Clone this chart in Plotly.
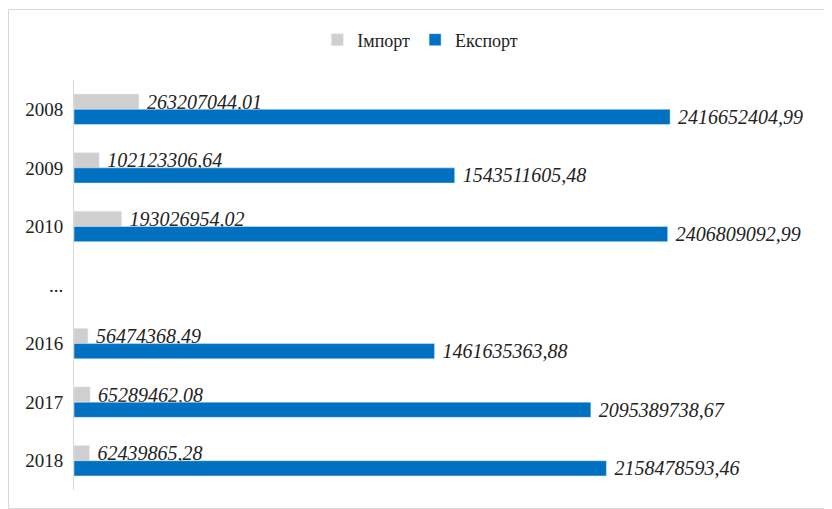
import plotly.graph_objects as go

categories = ["2008", "2009", "2010", "...", "2016", "2017", "2018"]
import_values = [263207044.01, 102123306.64, 193026954.02, None, 56474368.49, 65289462.08, 62439865.28]
export_values = [2416652404.99, 1543511605.48, 2406809092.99, None, 1461635363.88, 2095389738.67, 2158478593.46]
import_labels = ["263207044,01", "102123306,64", "193026954,02", "", "56474368,49", "65289462,08", "62439865,28"]
export_labels = ["2416652404,99", "1543511605,48", "2406809092,99", "", "1461635363,88", "2095389738,67", "2158478593,46"]

SERIF = "Liberation Serif, Times New Roman, serif"

# the page body has an 8px margin, so the figure starts at (8, 8)
W, H = 824, 501
L, R, T, B = 66, 18, 72, 19
PW, PH = W - L - R, H - T - B

fig = go.Figure()
fig.add_trace(go.Bar(
    y=categories, x=import_values, orientation="h", name="Імпорт",
    marker=dict(color="#D0CECE"),
    text=import_labels, texttemplate="\u00a0%{text}", textposition="outside",
    cliponaxis=False, constraintext="none",
    textfont=dict(family=SERIF, size=20, color="#222222", style="italic"),
))
fig.add_trace(go.Bar(
    y=categories, x=export_values, orientation="h", name="Експорт",
    marker=dict(color="#0070C0"),
    text=export_labels, texttemplate="\u00a0%{text}", textposition="outside",
    cliponaxis=False, constraintext="none",
    textfont=dict(family=SERIF, size=20, color="#222222", style="italic"),
))

fig.update_layout(
    width=W, height=H,
    margin=dict(l=L, r=R, t=T, b=B, autoexpand=False),
    paper_bgcolor="white", plot_bgcolor="white",
    barmode="group", bargap=0.48, bargroupgap=0,
    font=dict(family=SERIF, size=18, color="#222222"),
    legend=dict(orientation="h", x=0.468, xanchor="center", y=1 + (T - 32) / PH, yanchor="middle",
                font=dict(family=SERIF, size=18, color="#222222"),
                itemwidth=30, traceorder="normal", tracegroupgap=0),
    showlegend=True,
    xaxis=dict(range=[0, 3.0e9], showgrid=False, showticklabels=False, zeroline=False,
               showline=False, ticks="", automargin=False),
    yaxis=dict(categoryorder="array", categoryarray=categories, autorange="reversed",
               showline=True, linecolor="#D9D9D9", linewidth=1, ticks="", showgrid=False,
               automargin=False,
               tickfont=dict(family=SERIF, size=19, color="#222222"), ticklabelstandoff=6),
    shapes=[dict(type="rect", xref="paper", yref="paper",
                 x0=(0.5 - L) / PW, x1=(W + 5 - L) / PW,
                 y0=(PH + T - (H - 0.5)) / PH, y1=(PH + T - 1.5) / PH,
                 line=dict(color="#D9D9D9", width=1), fillcolor="rgba(0,0,0,0)", layer="below")],
)

fig.write_html("out.html")
